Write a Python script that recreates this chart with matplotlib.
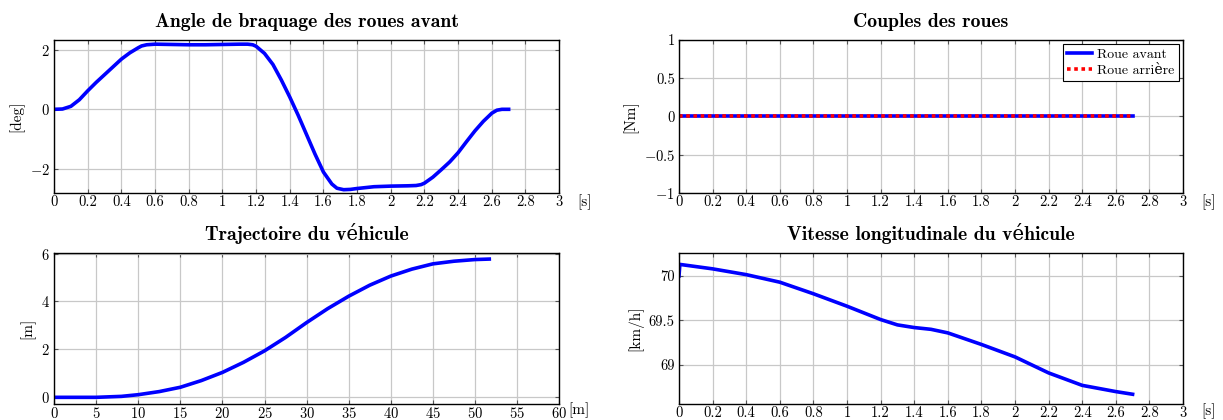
import matplotlib
matplotlib.use('Agg')
import matplotlib.pyplot as plt

# police style LaTeX
plt.rcParams['font.family'] = ['cmr10', 'DejaVu Serif']
plt.rcParams['mathtext.fontset'] = 'cm'
plt.rcParams['axes.formatter.use_mathtext'] = True
plt.rcParams['axes.unicode_minus'] = True

# angle de braquage des roues avant [deg]
t_angle = [0.00, 0.05, 0.10, 0.15, 0.20, 0.25, 0.30, 0.35, 0.40, 0.45, 0.50, 0.52, 0.55, 0.60,
           0.70, 0.80, 0.90, 1.00, 1.10, 1.15, 1.18, 1.20, 1.25, 1.30, 1.35, 1.40, 1.45, 1.50,
           1.55, 1.60, 1.65, 1.68, 1.72, 1.76, 1.80, 1.90, 2.00, 2.10, 2.15, 2.18, 2.20, 2.25,
           2.30, 2.35, 2.40, 2.45, 2.50, 2.55, 2.60, 2.63, 2.66, 2.70]
angle = [0.00, 0.01, 0.10, 0.32, 0.62, 0.90, 1.16, 1.42, 1.68, 1.89, 2.06, 2.12, 2.16, 2.18,
         2.17, 2.16, 2.16, 2.17, 2.18, 2.18, 2.16, 2.11, 1.87, 1.50, 0.98, 0.41, -0.20, -0.85,
         -1.50, -2.10, -2.50, -2.64, -2.69, -2.68, -2.65, -2.59, -2.57, -2.56, -2.55, -2.52, -2.47,
         -2.27, -2.02, -1.76, -1.45, -1.08, -0.72, -0.40, -0.13, -0.03, 0.00, 0.00]

# couples des roues [Nm]
t_couple = [0.0, 2.7]
couple_avant = [0.0, 0.0]
couple_arriere = [0.0, 0.0]

# trajectoire [m]
x_traj = [0, 5, 8, 10, 12.5, 15, 17.5, 20, 22.5, 25, 27.5, 30, 32.5, 35, 37.5, 40, 42.5, 45,
          47.5, 50, 51.7]
y_traj = [0, 0, 0.04, 0.11, 0.24, 0.42, 0.70, 1.04, 1.46, 1.94, 2.50, 3.12, 3.70, 4.22, 4.68,
          5.06, 5.35, 5.57, 5.68, 5.75, 5.77]

# vitesse longitudinale [km/h]
t_vit = [0.0, 0.005, 0.2, 0.4, 0.6, 0.8, 1.0, 1.2, 1.3, 1.4, 1.5, 1.6, 1.8, 2.0, 2.2, 2.4, 2.6, 2.7]
vitesse = [70.00, 70.13, 70.08, 70.015, 69.93, 69.80, 69.66, 69.51, 69.45, 69.42, 69.40, 69.36,
           69.23, 69.09, 68.91, 68.77, 68.70, 68.67]

bleu = '#0000ff'
rouge = '#ff0000'

fig = plt.figure(figsize=(12.23, 4.2), dpi=100)
ax1 = fig.add_axes([0.0442, 0.5405, 0.4130, 0.3643])
ax2 = fig.add_axes([0.5552, 0.5405, 0.4121, 0.3643])
ax3 = fig.add_axes([0.0442, 0.0380, 0.4130, 0.3600])
ax4 = fig.add_axes([0.5552, 0.0380, 0.4121, 0.3600])


def style(ax, titre, ylab, xlab):
    ax.grid(True, color='#c8c8c8', lw=0.9)
    ax.set_axisbelow(True)
    ax.tick_params(direction='in', length=3, width=0.8, color='#555555', top=True, right=True,
                   labelsize=10.5, pad=1.5)
    ax.tick_params(axis='y', pad=3)
    for s in ax.spines.values():
        s.set_linewidth(1.0)
    ax.set_title(titre, family=['cmb10', 'DejaVu Serif'], fontsize=14.2, pad=9)
    ax.set_ylabel(ylab, fontsize=11)
    ax.text(1.05, -0.06, xlab, transform=ax.transAxes, ha='center', va='center', fontsize=11)


ax1.plot(t_angle, angle, color=bleu, lw=2.6)
ax1.set_xlim(0, 3)
ax1.set_ylim(-2.80, 2.32)
ax1.set_xticks([0, 0.2, 0.4, 0.6, 0.8, 1, 1.2, 1.4, 1.6, 1.8, 2, 2.2, 2.4, 2.6, 2.8, 3])
ax1.set_xticklabels(['0', '0.2', '0.4', '0.6', '0.8', '1', '1.2', '1.4', '1.6', '1.8', '2',
                     '2.2', '2.4', '2.6', '2.8', '3'])
ax1.set_yticks([-2, 0, 2])
style(ax1, 'Angle de braquage des roues avant', '[deg]', '[s]')

ax2.plot(t_couple, couple_avant, color=bleu, lw=2.6, label='Roue avant')
ax2.plot(t_couple, couple_arriere, color=rouge, lw=2.6, ls=(0, (1, 1)), label='Roue arrière')
ax2.set_xlim(0, 3)
ax2.set_ylim(-1, 1)
ax2.set_xticks(ax1.get_xticks())
ax2.set_xticklabels([t.get_text() for t in ax1.get_xticklabels()])
ax2.set_yticks([-1, -0.5, 0, 0.5, 1])
ax2.set_yticklabels(['$-1$', '$-0.5$', '0', '0.5', '1'])
style(ax2, 'Couples des roues', '[Nm]', '[s]')
leg = ax2.legend(loc='upper right', fontsize=10, fancybox=False, framealpha=1, edgecolor='black',
                 handlelength=1.8, borderpad=0.3, labelspacing=0.2, handletextpad=0.4,
                 borderaxespad=0.3)
leg.get_frame().set_linewidth(0.8)

ax3.plot(x_traj, y_traj, color=bleu, lw=2.6)
ax3.set_xlim(0, 60)
ax3.set_ylim(-0.28, 6.03)
ax3.set_xticks(range(0, 61, 5))
ax3.set_yticks([0, 2, 4, 6])
style(ax3, 'Trajectoire du véhicule', '[m]', '[m]')
ax3.texts[-1].set_position((1.04, -0.04))

ax4.plot(t_vit, vitesse, color=bleu, lw=2.6)
ax4.set_xlim(0, 3)
ax4.set_ylim(68.56, 70.26)
ax4.set_xticks(ax1.get_xticks())
ax4.set_xticklabels([t.get_text() for t in ax1.get_xticklabels()])
ax4.set_yticks([69, 69.5, 70])
ax4.set_yticklabels(['69', '69.5', '70'])
style(ax4, 'Vitesse longitudinale du véhicule', '[km/h]', '[s]')
ax4.texts[-1].set_position((1.05, -0.05))

fig.savefig('out.png', dpi=100)
